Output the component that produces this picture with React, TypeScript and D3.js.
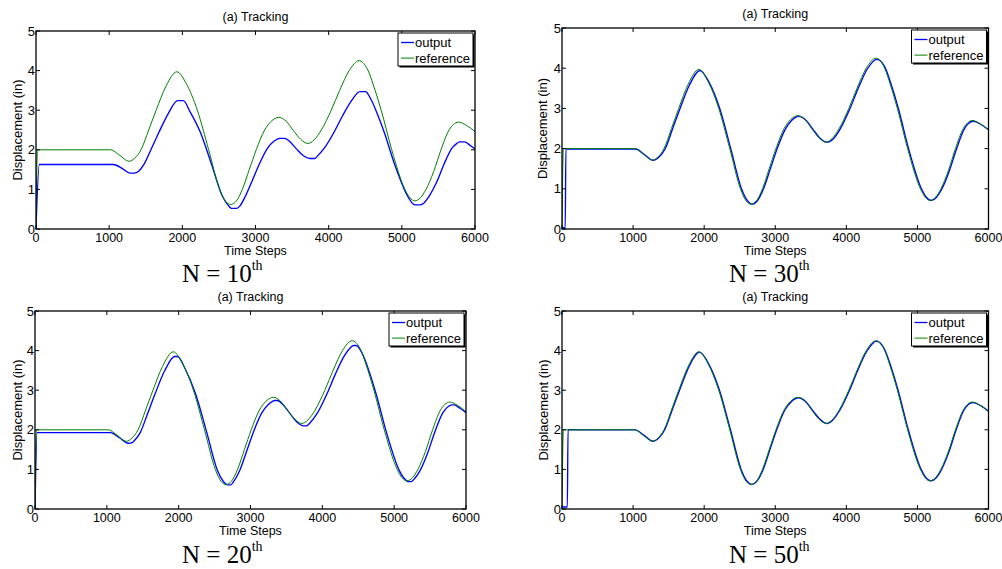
import { useEffect, useRef } from 'react';
import * as d3 from 'd3';

// Tick values shared by all four panels
const X_TICKS = [0, 1000, 2000, 3000, 4000, 5000, 6000];
const Y_TICKS = [0, 1, 2, 3, 4, 5];

// Reference trajectory [time step, displacement]
const REFERENCE = [
    [0, 0], [20, 2.0], [1020, 2.0], [1145, 1.86], [1270, 1.71], [1350, 1.79], [1435, 2.0],
    [1540, 2.5], [1642, 3.0], [1775, 3.6], [1925, 3.97], [2060, 3.65], [2205, 3.0], [2360, 2.0],
    [2510, 1.0], [2590, 0.7], [2659, 0.62], [2735, 0.7], [2820, 1.0], [2915, 1.5], [3010, 2.0],
    [3125, 2.5], [3215, 2.72], [3318, 2.82], [3420, 2.72], [3516, 2.49], [3615, 2.27], [3715, 2.16],
    [3800, 2.25], [3900, 2.5], [4035, 3.0], [4150, 3.5], [4280, 4.0], [4416, 4.25], [4520, 4.07],
    [4635, 3.5], [4718, 3.0], [4862, 2.0], [5042, 1.0], [5110, 0.79], [5178, 0.71], [5255, 0.79],
    [5330, 1.0], [5435, 1.45], [5535, 2.0], [5645, 2.5], [5705, 2.64], [5772, 2.7], [5880, 2.62],
    [6000, 2.46],
];

// Plant output after N iterations
const OUTPUT_N10 = [
    [0, 0], [45, 1.63], [1060, 1.63], [1185, 1.52], [1290, 1.41], [1340, 1.41], [1410, 1.47],
    [1475, 1.63], [1580, 2.04], [1682, 2.45], [1815, 2.94], [1935, 3.24], [2015, 3.24], [2100, 2.98],
    [2245, 2.45], [2400, 1.63], [2550, 0.82], [2630, 0.59], [2670, 0.52], [2745, 0.52], [2790, 0.59],
    [2860, 0.82], [2955, 1.22], [3050, 1.63], [3165, 2.04], [3255, 2.22], [3330, 2.29], [3400, 2.29],
    [3460, 2.22], [3556, 2.03], [3655, 1.85], [3745, 1.78], [3810, 1.78], [3845, 1.84], [3940, 2.04],
    [4075, 2.45], [4190, 2.86], [4320, 3.26], [4425, 3.47], [4505, 3.47], [4565, 3.32], [4675, 2.86],
    [4758, 2.45], [4902, 1.63], [5082, 0.82], [5150, 0.64], [5185, 0.61], [5250, 0.61], [5300, 0.65],
    [5370, 0.82], [5475, 1.18], [5575, 1.63], [5685, 2.04], [5745, 2.15], [5790, 2.2], [5860, 2.2],
    [5920, 2.13], [6000, 2.02],
];

const OUTPUT_N20 = [
    [0, 0], [30, 1.93], [1050, 1.93], [1175, 1.8], [1295, 1.66], [1345, 1.67], [1385, 1.73],
    [1465, 1.93], [1570, 2.42], [1672, 2.91], [1805, 3.49], [1945, 3.85], [1985, 3.85], [2090, 3.54],
    [2235, 2.91], [2390, 1.94], [2540, 0.97], [2620, 0.7], [2680, 0.61], [2725, 0.61], [2765, 0.69],
    [2850, 0.97], [2945, 1.45], [3040, 1.94], [3155, 2.42], [3245, 2.63], [3340, 2.74], [3375, 2.74],
    [3450, 2.64], [3546, 2.42], [3645, 2.2], [3740, 2.1], [3780, 2.1], [3830, 2.18], [3930, 2.42],
    [4065, 2.91], [4180, 3.4], [4310, 3.88], [4440, 4.13], [4470, 4.13], [4550, 3.95], [4665, 3.4],
    [4748, 2.91], [4892, 1.94], [5072, 0.97], [5140, 0.77], [5200, 0.69], [5235, 0.69], [5285, 0.77],
    [5360, 0.97], [5465, 1.41], [5565, 1.94], [5675, 2.42], [5735, 2.56], [5800, 2.63], [5835, 2.63],
    [5910, 2.55], [6000, 2.43],
];

const OUTPUT_N30 = [
    [0, 0.03], [45, 0.03], [55, 1.99], [1035, 1.99], [1160, 1.85], [1285, 1.71], [1365, 1.79],
    [1450, 1.99], [1555, 2.49], [1657, 2.98], [1790, 3.57], [1940, 3.94], [2075, 3.63], [2220, 2.99],
    [2375, 1.99], [2525, 1.0], [2605, 0.71], [2674, 0.62], [2750, 0.71], [2835, 1.0], [2930, 1.49],
    [3025, 1.99], [3140, 2.48], [3230, 2.7], [3333, 2.8], [3435, 2.7], [3531, 2.48], [3630, 2.26],
    [3730, 2.16], [3815, 2.24], [3915, 2.49], [4050, 2.99], [4165, 3.49], [4295, 3.98], [4431, 4.22],
    [4535, 4.05], [4650, 3.49], [4733, 2.99], [4877, 1.99], [5057, 1.0], [5125, 0.79], [5193, 0.71],
    [5270, 0.79], [5345, 1.0], [5450, 1.45], [5550, 1.99], [5660, 2.49], [5720, 2.63], [5787, 2.68],
    [5895, 2.6], [6000, 2.47],
];

const OUTPUT_N50 = [
    [0, 0.05], [75, 0.05], [85, 2.0], [1030, 2.0], [1155, 1.86], [1280, 1.71], [1360, 1.79],
    [1445, 2.0], [1550, 2.5], [1652, 2.99], [1785, 3.59], [1935, 3.96], [2070, 3.64], [2215, 3.0],
    [2370, 2.0], [2520, 1.0], [2600, 0.71], [2669, 0.62], [2745, 0.71], [2830, 1.0], [2925, 1.5],
    [3020, 2.0], [3135, 2.5], [3225, 2.71], [3328, 2.81], [3430, 2.71], [3526, 2.49], [3625, 2.27],
    [3725, 2.16], [3810, 2.25], [3910, 2.5], [4045, 3.0], [4160, 3.5], [4290, 3.99], [4426, 4.24],
    [4530, 4.06], [4645, 3.5], [4728, 3.0], [4872, 2.0], [5052, 1.0], [5120, 0.79], [5188, 0.71],
    [5265, 0.79], [5340, 1.0], [5445, 1.45], [5545, 2.0], [5655, 2.5], [5715, 2.64], [5782, 2.69],
    [5890, 2.61], [6000, 2.47],
];

const LEGEND_LABELS = ['output', 'reference'];
const TITLE = '(a) Tracking';
const X_LABEL = 'Time Steps';
const Y_LABEL = 'Displacement (in)';

// Panel frames in page pixels
const PANELS = [
    { output: OUTPUT_N10, nth: '10', left: 36, right: 475, top: 31, bottom: 229, ylabelX: 17, nX: 182, nY: 281.5 },
    { output: OUTPUT_N30, nth: '30', left: 562, right: 988.5, top: 28, bottom: 229, ylabelX: 542.5, nX: 729, nY: 281.5 },
    { output: OUTPUT_N20, nth: '20', left: 35, right: 466, top: 311, bottom: 509, ylabelX: 17, nX: 182, nY: 563 },
    { output: OUTPUT_N50, nth: '50', left: 562, right: 988.5, top: 311, bottom: 509, ylabelX: 543, nX: 729, nY: 563 },
];

const BLUE = '#0000ff';
const GREEN = '#008000';
const SANS = 'Liberation Sans, Arial, sans-serif';
const SERIF = 'Liberation Serif, Times New Roman, serif';

export default function App() {
    const svgRef = useRef(null);

    useEffect(() => {
        const svg = d3.select(svgRef.current);
        svg.selectAll('*').remove();

        svg.append('rect').attr('width', 1002).attr('height', 569).attr('fill', '#fff');

        PANELS.forEach(p => {
            const x = d3.scaleLinear().domain([0, 6000]).range([p.left, p.right]);
            const y = d3.scaleLinear().domain([0, 5]).range([p.bottom, p.top]);
            const g = svg.append('g');
            const cx = (p.left + p.right) / 2;

            // title
            g.append('text')
                .attr('x', cx).attr('y', p.top - 10)
                .attr('text-anchor', 'middle')
                .style('font-family', SANS).style('font-size', '12.5px')
                .text(TITLE);

            const clipId = `clip-${p.nth}`;
            g.append('clipPath').attr('id', clipId)
                .append('rect')
                .attr('x', p.left).attr('y', p.top - 1)
                .attr('width', p.right - p.left).attr('height', p.bottom - p.top + 2);

            const line = d3.line()
                .x(d => x(d[0]))
                .y(d => y(d[1]))
                .curve(d3.curveMonotoneX);

            g.append('path')
                .datum(p.output)
                .attr('clip-path', `url(#${clipId})`)
                .attr('fill', 'none')
                .attr('stroke', BLUE)
                .attr('stroke-width', 1.35)
                .attr('d', line);

            g.append('path')
                .datum(REFERENCE)
                .attr('clip-path', `url(#${clipId})`)
                .attr('fill', 'none')
                .attr('stroke', GREEN)
                .attr('stroke-width', 1)
                .attr('d', line);

            // inward ticks on all four sides
            const tl = 4;
            X_TICKS.forEach(t => {
                g.append('line').attr('x1', x(t)).attr('x2', x(t)).attr('y1', p.bottom).attr('y2', p.bottom - tl)
                    .attr('stroke', '#000');
                g.append('line').attr('x1', x(t)).attr('x2', x(t)).attr('y1', p.top).attr('y2', p.top + tl)
                    .attr('stroke', '#000');
                g.append('text')
                    .attr('x', x(t)).attr('y', p.bottom + 12.5)
                    .attr('text-anchor', 'middle')
                    .style('font-family', SANS).style('font-size', '12.5px')
                    .text(t);
            });
            Y_TICKS.forEach(v => {
                g.append('line').attr('x1', p.left).attr('x2', p.left + tl).attr('y1', y(v)).attr('y2', y(v))
                    .attr('stroke', '#000');
                g.append('line').attr('x1', p.right).attr('x2', p.right - tl).attr('y1', y(v)).attr('y2', y(v))
                    .attr('stroke', '#000');
                g.append('text')
                    .attr('x', p.left - 1).attr('y', y(v)).attr('dy', '0.36em')
                    .attr('text-anchor', 'end')
                    .style('font-family', SANS).style('font-size', '13px')
                    .text(v);
            });

            // axes box
            g.append('rect')
                .attr('x', p.left).attr('y', p.top)
                .attr('width', p.right - p.left).attr('height', p.bottom - p.top)
                .attr('fill', 'none').attr('stroke', '#000').attr('stroke-width', 1.3);

            // axis labels
            g.append('text')
                .attr('x', cx).attr('y', p.bottom + 25.5)
                .attr('text-anchor', 'middle')
                .style('font-family', SANS).style('font-size', '12.5px')
                .text(X_LABEL);

            g.append('text')
                .attr('transform', `translate(${p.ylabelX},${(p.top + p.bottom) / 2}) rotate(-90)`)
                .attr('dy', '0.35em')
                .attr('text-anchor', 'middle')
                .style('font-family', SANS).style('font-size', '13px')
                .text(Y_LABEL);

            // legend
            const lw = 75, lh = 33;
            const lx = p.right - 2 - lw, ly = p.top + 2;
            const legend = g.append('g');
            legend.append('rect')
                .attr('x', lx + 1.5).attr('y', ly + 1.5).attr('width', lw).attr('height', lh)
                .attr('fill', '#000');
            legend.append('rect')
                .attr('x', lx).attr('y', ly).attr('width', lw).attr('height', lh)
                .attr('fill', '#fff').attr('stroke', '#000').attr('stroke-width', 1);
            [BLUE, GREEN].forEach((c, i) => {
                const yy = ly + 9.5 + i * 15.6;
                legend.append('line')
                    .attr('x1', lx + 3).attr('x2', lx + 16).attr('y1', yy).attr('y2', yy)
                    .attr('stroke', c).attr('stroke-width', i === 0 ? 1.3 : 1);
                legend.append('text')
                    .attr('x', lx + 17).attr('y', yy + 4.4)
                    .style('font-family', SANS).style('font-size', '13px')
                    .text(LEGEND_LABELS[i]);
            });

            // iteration caption
            const cap = g.append('text')
                .attr('x', p.nX).attr('y', p.nY)
                .style('font-family', SERIF).style('font-size', '25px');
            cap.append('tspan').text(`N = ${p.nth}`);
            cap.append('tspan').attr('dy', -12).style('font-size', '14px').text('th');
        });
    }, []);

    return (
        <div style={{ position: 'absolute', left: 0, top: 0, width: 1002, height: 569 }}>
            <svg ref={svgRef} width={1002} height={569} style={{ display: 'block' }} />
        </div>
    );
}
